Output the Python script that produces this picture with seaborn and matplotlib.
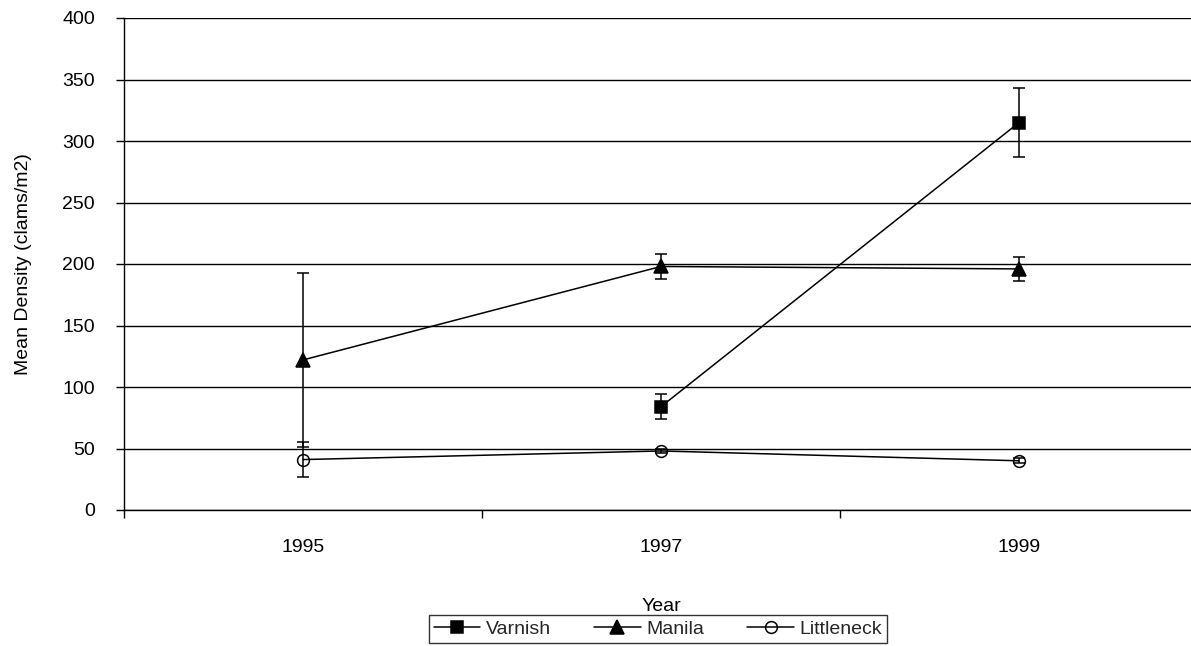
import numpy as np
import pandas as pd
import matplotlib
matplotlib.use("Agg")
import matplotlib.pyplot as plt
from matplotlib.lines import Line2D
import seaborn as sns

# Survey years and mean clam densities (clams/m2) with error half-widths
years = ["1995", "1997", "1999"]
species = ["Varnish", "Manila", "Littleneck"]
varnish_mean = [np.nan, 84, 315]
varnish_err = [np.nan, 10, 28]
manila_mean = [122, 198, 196]
manila_err = [71, 10, 10]
littleneck_mean = [41, 48, 40]
littleneck_err = [14, 2, 2]
y_ticks = [0, 50, 100, 150, 200, 250, 300, 350, 400]

records = []
for name, means, errs in zip(species,
                             [varnish_mean, manila_mean, littleneck_mean],
                             [varnish_err, manila_err, littleneck_err]):
    for i, (m, e) in enumerate(zip(means, errs)):
        if not np.isnan(m):
            records.append({"species": name, "pos": i, "year": years[i],
                            "mean": m, "err": e})
df = pd.DataFrame(records)

sns.set_theme(style="white")
plt.rcParams["font.family"] = ["Liberation Sans", "DejaVu Sans"]

W, H = 1191, 646
FS = 14
fig = plt.figure(figsize=(W / 100, H / 100), dpi=100)
ax = fig.add_axes([124 / W, (H - 510) / H, (1198 - 124) / W, 492 / H])

styles = {
    "Varnish": dict(marker="s", markerfacecolor="black", markersize=8.5),
    "Manila": dict(marker="^", markerfacecolor="black", markersize=9.5),
    "Littleneck": dict(marker="o", markerfacecolor="none", markersize=8.5),
}

for name in species:
    sub = df[df["species"] == name]
    ax.errorbar(sub["pos"], sub["mean"], yerr=sub["err"], fmt="none",
                ecolor="black", elinewidth=1.1, capsize=4, capthick=1.1,
                zorder=2)
    sns.lineplot(data=sub, x="pos", y="mean", ax=ax, color="black",
                 linewidth=1.1, markeredgecolor="black", markeredgewidth=1.1,
                 zorder=3, legend=False, **styles[name])

ax.set_xlim(-0.5, 2.5)
ax.set_ylim(0, 400)
ax.set_yticks(y_ticks)
ax.set_yticklabels([str(v) for v in y_ticks])
ax.set_xticks(range(len(years)))
ax.set_xticklabels(years)
ax.set_xticks([-0.5, 0.5, 1.5, 2.5], minor=True)

ax.yaxis.grid(True, color="black", linewidth=1.0)
ax.xaxis.grid(False)
ax.set_axisbelow(True)
for side in ["top", "right"]:
    ax.spines[side].set_visible(False)
for side in ["left", "bottom"]:
    ax.spines[side].set_color("black")
    ax.spines[side].set_linewidth(1.0)

ax.tick_params(axis="y", which="major", direction="out", length=6, width=1,
               color="black", labelsize=FS, labelcolor="black", pad=15,
               left=True)
ax.tick_params(axis="x", which="major", length=0, labelsize=FS,
               labelcolor="black", pad=21, bottom=True)
ax.tick_params(axis="x", which="minor", direction="out", length=6, width=1,
               color="black", bottom=True)

ax.set_xlabel("Year", fontsize=FS, color="black", labelpad=30)
ax.set_ylabel("Mean Density (clams/m2)", fontsize=FS, color="black",
              labelpad=22)

handles = [
    Line2D([], [], color="black", linewidth=1.1, markeredgecolor="black",
           markeredgewidth=1.1, **styles[name]) for name in species
]
leg = fig.legend(handles, species, loc="center",
                 bbox_to_anchor=(658 / W, 1 - 629 / H), ncol=3,
                 frameon=True, fancybox=False, edgecolor="black",
                 fontsize=FS, handlelength=2.4, handletextpad=0.3,
                 columnspacing=2.2, borderpad=0.25, borderaxespad=0)
leg.get_frame().set_linewidth(1.0)

fig.savefig("out.png", dpi=100, facecolor="white")
